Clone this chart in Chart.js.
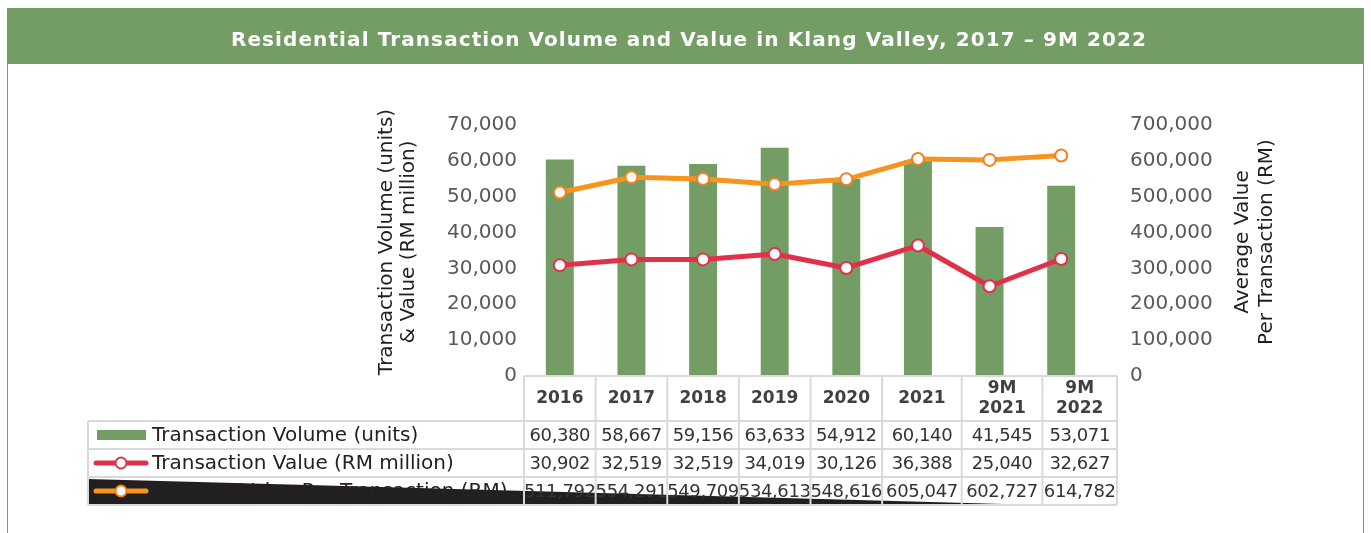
<!DOCTYPE html>
<html>
<head>
<meta charset="utf-8">
<script src="https://cdn.jsdelivr.net/npm/chart.js@4.4.1/dist/chart.umd.min.js"></script>
<style>
html, body { margin: 0; padding: 0; background: #fff; overflow: hidden; }
</style>
</head>
<body>
<canvas id="chart" width="1371" height="533"></canvas>
<script>
const titleText = 'Residential Transaction Volume and Value in Klang Valley, 2017 \u2013 9M 2022';
const years = ['2016', '2017', '2018', '2019', '2020', '2021', ['9M', '2021'], ['9M', '2022']];
const volume = [60380, 58667, 59156, 63633, 54912, 60140, 41545, 53071];
const value = [30902, 32519, 32519, 34019, 30126, 36388, 25040, 32627];
const avgValue = [511792, 554291, 549709, 534613, 548616, 605047, 602727, 614782];
const seriesNames = ['Transaction Volume (units)', 'Transaction Value (RM million)', 'Average Value Per Transaction (RM)'];
const leftTitle = ['Transaction Volume (units)', '& Value (RM million)'];
const rightTitle = ['Average Value', 'Per Transaction (RM)'];

const green = '#739D65';
const red = '#E2304A';
const orange = '#F7941D';
const gridGray = '#D9D9D9';
const numFont = '"DejaVu Sans", sans-serif';

const fmt = v => v.toLocaleString('en-US');

// title bar + panel borders
const framePlugin = {
  id: 'frame',
  beforeDraw(chart) {
    const ctx = chart.ctx;
    ctx.save();
    ctx.fillStyle = '#fff';
    ctx.fillRect(0, 0, chart.width, chart.height);
    ctx.fillStyle = green;
    ctx.fillRect(7, 8, 1357, 56);
    ctx.strokeStyle = '#8c8c8c';
    ctx.lineWidth = 1;
    ctx.beginPath();
    ctx.moveTo(7.5, 64); ctx.lineTo(7.5, 533);
    ctx.moveTo(1363.5, 64); ctx.lineTo(1363.5, 533);
    ctx.stroke();
    ctx.font = 'bold 20px ' + numFont;
    const w = ctx.measureText(titleText).width;
    ctx.letterSpacing = ((916 - w) / titleText.length).toFixed(2) + 'px';
    ctx.fillStyle = '#fff';
    ctx.textAlign = 'center';
    ctx.textBaseline = 'middle';
    ctx.fillText(titleText, 689, 41);
    ctx.restore();
  }
};

// axis titles, data table with legend keys
const tablePlugin = {
  id: 'table',
  afterDraw(chart) {
    const ctx = chart.ctx;
    const area = chart.chartArea;
    const xs = chart.scales.x;
    ctx.save();

    // rotated axis titles
    ctx.fillStyle = '#1f1f1f';
    ctx.font = '20px ' + numFont;
    ctx.textAlign = 'center';
    ctx.textBaseline = 'middle';
    const drawV = (lines, xPos) => {
      lines.forEach((t, i) => {
        ctx.save();
        ctx.translate(xPos[i], 242);
        ctx.rotate(-Math.PI / 2);
        ctx.fillText(t, 0, 0);
        ctx.restore();
      });
    };
    drawV(leftTitle, [387, 409]);
    drawV(rightTitle, [1243, 1267]);

    // table geometry
    const step = xs.getPixelForValue(1) - xs.getPixelForValue(0);
    const shift = [0, 0, 0, 0, 0, 0, 8, 17, 20];
    const edges = years.map((_, i) => xs.getPixelForValue(i) - step / 2 + shift[i]);
    edges.push(xs.getPixelForValue(years.length - 1) + step / 2 + shift[years.length]);
    const top = area.bottom;
    const headBottom = top + 45;
    const rowH = 28;
    const rowTops = [headBottom, headBottom + rowH, headBottom + 2 * rowH];
    const bottom = headBottom + 3 * rowH;
    const labelLeft = 88;
    const right = edges[edges.length - 1];

    // black smear over last row
    ctx.fillStyle = '#231F20';
    ctx.beginPath();
    ctx.moveTo(labelLeft, rowTops[2] + 2);
    ctx.lineTo(edges[7] + 35, bottom + 1);
    ctx.lineTo(labelLeft, bottom + 1);
    ctx.closePath();
    ctx.fill();

    // header
    ctx.fillStyle = '#404040';
    ctx.font = 'bold 17px ' + numFont;
    years.forEach((y, i) => {
      const cx = (edges[i] + edges[i + 1]) / 2;
      const cy = (top + headBottom) / 2;
      if (Array.isArray(y)) {
        ctx.fillText(y[0], cx, cy - 10);
        ctx.fillText(y[1], cx, cy + 10);
      } else {
        ctx.fillText(y, cx, cy);
      }
    });

    // numbers
    ctx.fillStyle = '#333';
    ctx.font = '18px ' + numFont;
    ctx.letterSpacing = '-0.4px';
    [volume, value, avgValue].forEach((arr, r) => {
      const cy = rowTops[r] + rowH / 2 + 1;
      arr.forEach((v, i) => {
        ctx.fillText(fmt(v), (edges[i] + edges[i + 1]) / 2, cy);
      });
    });
    ctx.letterSpacing = '0px';

    // row labels
    ctx.textAlign = 'left';
    ctx.fillStyle = '#222';
    ctx.font = '20px ' + numFont;
    seriesNames.forEach((n, r) => {
      ctx.fillText(n, 152, rowTops[r] + rowH / 2 + 1);
    });

    // legend keys
    ctx.fillStyle = green;
    ctx.fillRect(97, rowTops[0] + 9, 49, 10);
    [[red, red], [orange, '#F47F20']].forEach(([c, pc], k) => {
      const cy = rowTops[k + 1] + rowH / 2;
      ctx.strokeStyle = c;
      ctx.lineWidth = 5;
      ctx.lineCap = 'round';
      ctx.beginPath();
      ctx.moveTo(96, cy); ctx.lineTo(146, cy);
      ctx.stroke();
      ctx.beginPath();
      ctx.arc(121, cy, 5.5, 0, Math.PI * 2);
      ctx.fillStyle = '#fff';
      ctx.fill();
      ctx.lineWidth = 2;
      ctx.strokeStyle = pc;
      ctx.stroke();
    });

    // grid
    ctx.strokeStyle = gridGray;
    ctx.lineWidth = 2;
    ctx.lineCap = 'butt';
    ctx.beginPath();
    ctx.moveTo(edges[0], top); ctx.lineTo(right, top);
    [headBottom, rowTops[1], rowTops[2], bottom].forEach(y => {
      ctx.moveTo(labelLeft, y); ctx.lineTo(right, y);
    });
    edges.forEach(x => { ctx.moveTo(x, top); ctx.lineTo(x, bottom); });
    ctx.moveTo(labelLeft, headBottom); ctx.lineTo(labelLeft, bottom);
    ctx.stroke();

    ctx.restore();
  }
};

const tickStyle = { size: 20, family: numFont };

new Chart(document.getElementById('chart').getContext('2d'), {
  data: {
    labels: years,
    datasets: [
      {
        type: 'line',
        label: seriesNames[2],
        data: avgValue,
        yAxisID: 'y1',
        borderColor: orange,
        borderWidth: 5,
        borderJoinStyle: 'round',
        tension: 0,
        pointRadius: 6,
        pointBorderWidth: 2,
        pointBackgroundColor: '#fff',
        pointBorderColor: '#F47F20',
        order: 1
      },
      {
        type: 'line',
        label: seriesNames[1],
        data: value,
        yAxisID: 'y',
        borderColor: red,
        borderWidth: 5,
        borderJoinStyle: 'round',
        tension: 0,
        pointRadius: 6,
        pointBorderWidth: 2,
        pointBackgroundColor: '#fff',
        pointBorderColor: red,
        order: 2
      },
      {
        type: 'bar',
        label: seriesNames[0],
        data: volume,
        yAxisID: 'y',
        backgroundColor: green,
        barPercentage: 0.39,
        categoryPercentage: 1,
        order: 3
      }
    ]
  },
  options: {
    responsive: false,
    animation: false,
    layout: { padding: { left: 370, right: 74, top: 125, bottom: 27 } },
    plugins: {
      legend: { display: false },
      tooltip: { enabled: false },
      title: { display: false }
    },
    scales: {
      x: {
        grid: { display: false },
        border: { display: false },
        ticks: { display: false },
        afterFit(s) { s.height = 130; }
      },
      y: {
        position: 'left',
        min: 0,
        max: 70000,
        grid: { display: false, drawTicks: false },
        border: { display: false },
        ticks: { stepSize: 10000, padding: 7, color: '#595959', font: tickStyle, callback: v => fmt(v) },
        afterFit(s) { s.width = 154; }
      },
      y1: {
        position: 'right',
        min: 0,
        max: 700000,
        grid: { display: false, drawTicks: false },
        border: { display: false },
        ticks: { stepSize: 100000, padding: 33, color: '#595959', font: tickStyle, callback: v => fmt(v) },
        afterFit(s) { s.width = 200; }
      }
    }
  },
  plugins: [framePlugin, tablePlugin]
});
</script>
</body>
</html>
